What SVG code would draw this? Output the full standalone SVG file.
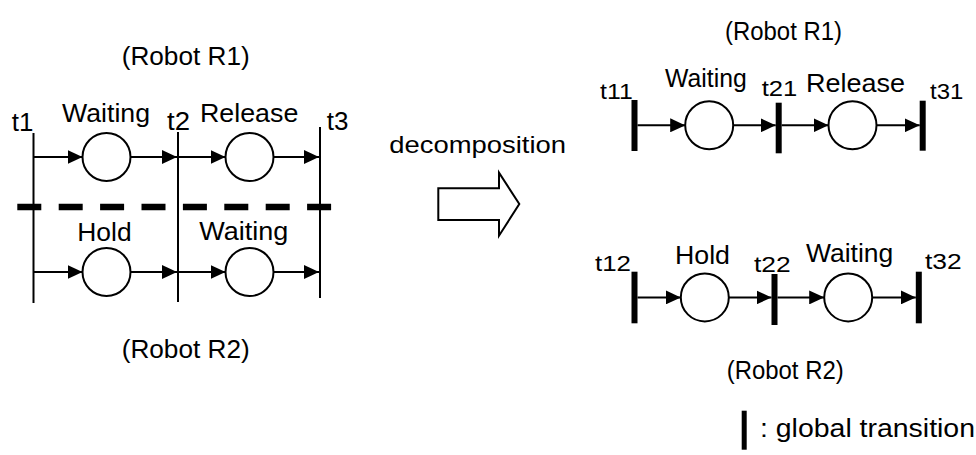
<svg xmlns="http://www.w3.org/2000/svg" width="976" height="455" viewBox="0 0 976 455">
<style>
text{font-family:"Liberation Sans",Arial,sans-serif;fill:#000;}
.l{font-size:26px;}
.t{font-size:25px;}
.tr{font-size:22px;}
.ln{stroke:#000;stroke-width:2;fill:none;}
.arc{stroke:#000;stroke-width:2;fill:none;marker-end:url(#ah);}
.pl{stroke:#000;stroke-width:2;fill:#fff;}
.bar{fill:#000;}
</style>
<defs>
<marker id="ah" markerUnits="userSpaceOnUse" markerWidth="15" markerHeight="14" refX="15" refY="7" orient="auto">
<path d="M0,0 L15,7 L0,14 z" fill="#000"/>
</marker>
</defs>
<rect width="976" height="455" fill="#fff"/>

<!-- Left diagram -->
<g id="left-labels">
<text class="l" x="121.7" y="65" textLength="128" lengthAdjust="spacingAndGlyphs">(Robot R1)</text>
<text class="l" x="121.7" y="358.3" textLength="128" lengthAdjust="spacingAndGlyphs">(Robot R2)</text>
</g>
<g id="t1"><line class="ln" x1="33.5" y1="133" x2="33.5" y2="303"/><text class="t" x="11.7" y="130.7" textLength="21.6" lengthAdjust="spacingAndGlyphs">t1</text></g>
<g id="t2"><line class="ln" x1="178" y1="132" x2="178" y2="302"/><text class="t" x="167" y="130" textLength="23" lengthAdjust="spacingAndGlyphs">t2</text></g>
<g id="t3"><line class="ln" x1="320" y1="127" x2="320" y2="298"/><text class="t" x="326.7" y="130" textLength="21.7" lengthAdjust="spacingAndGlyphs">t3</text></g>
<g id="p-waiting1"><circle class="pl" cx="106.5" cy="157" r="24"/><text class="l" x="62" y="121.7" textLength="88" lengthAdjust="spacingAndGlyphs">Waiting</text></g>
<g id="p-release1"><circle class="pl" cx="249.5" cy="157" r="24"/><text class="l" x="200" y="122.3" textLength="98.3" lengthAdjust="spacingAndGlyphs">Release</text></g>
<g id="p-hold1"><circle class="pl" cx="106.5" cy="272" r="24"/><text class="l" x="77.3" y="240.7" textLength="54.3" lengthAdjust="spacingAndGlyphs">Hold</text></g>
<g id="p-waiting2"><circle class="pl" cx="249.5" cy="272" r="24"/><text class="l" x="199.3" y="240" textLength="89" lengthAdjust="spacingAndGlyphs">Waiting</text></g>
<g id="divider"><line x1="17.3" y1="207" x2="331.7" y2="207" stroke="#000" stroke-width="6.5" stroke-dasharray="24 17.4"/></g>

<!-- decomposition arrow -->
<g id="decomposition">
<text x="389.3" y="153" font-size="24" textLength="176.7" lengthAdjust="spacingAndGlyphs">decomposition</text>
<polygon class="pl" points="438.3,188.3 499,188.3 499,172.7 519.3,204 499,235.7 499,220 438.3,220"/>
</g>

<!-- Right diagram -->
<g id="right-labels">
<text class="l" x="725" y="40" textLength="117" lengthAdjust="spacingAndGlyphs">(Robot R1)</text>
<text class="l" x="726.7" y="379" textLength="117" lengthAdjust="spacingAndGlyphs">(Robot R2)</text>
</g>
<g id="t11"><rect class="bar" x="631.5" y="100" width="6" height="51"/><text class="tr" x="600" y="99.3" textLength="32.7" lengthAdjust="spacingAndGlyphs">t11</text></g>
<g id="t21"><rect class="bar" x="775.7" y="102.7" width="6" height="50.6"/><text class="tr" x="761.7" y="96" textLength="35.6" lengthAdjust="spacingAndGlyphs">t21</text></g>
<g id="t31"><rect class="bar" x="919.7" y="100.7" width="6" height="50"/><text class="tr" x="930" y="99.3" textLength="33.3" lengthAdjust="spacingAndGlyphs">t31</text></g>
<g id="p-waiting-r1"><circle class="pl" cx="709.2" cy="125.3" r="24"/><text class="l" x="665" y="86.7" textLength="81.7" lengthAdjust="spacingAndGlyphs">Waiting</text></g>
<g id="p-release-r1"><circle class="pl" cx="852.5" cy="125.3" r="24"/><text class="l" x="806" y="91.7" textLength="99" lengthAdjust="spacingAndGlyphs">Release</text></g>

<g id="t12"><rect class="bar" x="631.5" y="271.7" width="6" height="51.6"/><text class="tr" x="595" y="270.7" textLength="36" lengthAdjust="spacingAndGlyphs">t12</text></g>
<g id="t22"><rect class="bar" x="771.5" y="274" width="6" height="51"/><text class="tr" x="754" y="271.7" textLength="36.7" lengthAdjust="spacingAndGlyphs">t22</text></g>
<g id="t32"><rect class="bar" x="915.8" y="271.7" width="6" height="51.6"/><text class="tr" x="925" y="269.3" textLength="36.7" lengthAdjust="spacingAndGlyphs">t32</text></g>
<g id="p-hold-r2"><circle class="pl" cx="704.8" cy="297.4" r="24"/><text class="l" x="675" y="264" textLength="55" lengthAdjust="spacingAndGlyphs">Hold</text></g>
<g id="p-waiting-r2"><circle class="pl" cx="848.2" cy="297.4" r="24"/><text class="l" x="806" y="261.7" textLength="87.3" lengthAdjust="spacingAndGlyphs">Waiting</text></g>

<g id="legend">
<rect class="bar" x="741.7" y="410.7" width="5" height="39"/>
<text x="760" y="436.7" font-size="25" textLength="215" lengthAdjust="spacingAndGlyphs">: global transition</text>
</g>

<g id="connectors">
<line class="arc" x1="33.5" y1="157" x2="82.5" y2="157"/>
<line class="arc" x1="130.5" y1="157" x2="177" y2="157"/>
<line class="arc" x1="178" y1="157" x2="225.5" y2="157"/>
<line class="arc" x1="273.5" y1="157" x2="319" y2="157"/>
<line class="arc" x1="33.5" y1="272" x2="82.5" y2="272"/>
<line class="arc" x1="130.5" y1="272" x2="177" y2="272"/>
<line class="arc" x1="178" y1="272" x2="225.5" y2="272"/>
<line class="arc" x1="273.5" y1="272" x2="319" y2="272"/>

<line class="arc" x1="637.5" y1="125.3" x2="685.2" y2="125.3"/>
<line class="arc" x1="733.2" y1="125.3" x2="775.7" y2="125.3"/>
<line class="arc" x1="781.7" y1="125.3" x2="828.5" y2="125.3"/>
<line class="arc" x1="876.5" y1="125.3" x2="919.7" y2="125.3"/>
<line class="arc" x1="637.5" y1="297.4" x2="680.8" y2="297.4"/>
<line class="arc" x1="728.8" y1="297.4" x2="771.5" y2="297.4"/>
<line class="arc" x1="777.5" y1="297.4" x2="824.2" y2="297.4"/>
<line class="arc" x1="872.2" y1="297.4" x2="915.8" y2="297.4"/>
</g>
</svg>
